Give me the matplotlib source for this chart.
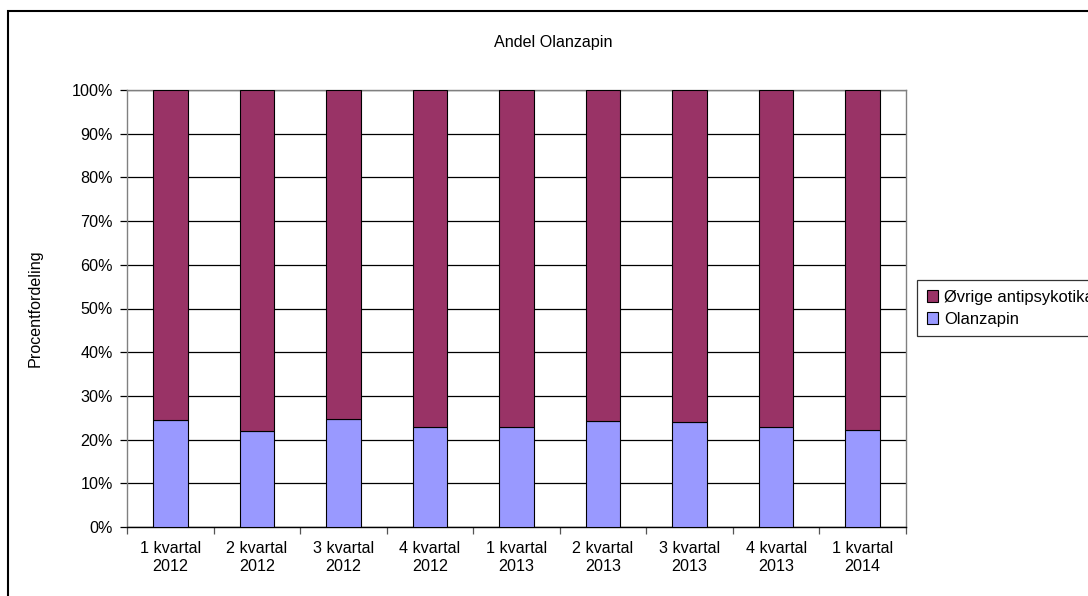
import matplotlib
matplotlib.use("Agg")
import matplotlib.pyplot as plt
import numpy as np
from matplotlib.patches import Rectangle

plt.rcParams['font.family'] = ['Liberation Sans', 'DejaVu Sans']

categories = ["1 kvartal\n2012", "2 kvartal\n2012", "3 kvartal\n2012", "4 kvartal\n2012",
              "1 kvartal\n2013", "2 kvartal\n2013", "3 kvartal\n2013", "4 kvartal\n2013",
              "1 kvartal\n2014"]
olanzapin = [24.4, 21.9, 24.6, 22.9, 22.9, 24.3, 24.1, 22.9, 22.1]
ovrige = [100 - v for v in olanzapin]

W, H = 1088, 596
fig = plt.figure(figsize=(W / 100, H / 100), dpi=100)

# outer chart border
fig.patches.append(Rectangle((8 / W, -0.05), 1.2, (596 - 10.5) / H + 0.05,
                             transform=fig.transFigure, fill=False,
                             edgecolor='black', linewidth=1.5))

left, right, top, bottom = 127, 906, 90, 527
ax = fig.add_axes([left / W, (H - bottom) / H, (right - left) / W, (bottom - top) / H])

x = np.arange(len(categories))
fs = 11.6
b1 = ax.bar(x, olanzapin, width=0.4, color='#9999FF', edgecolor='black', linewidth=0.8,
            label='Olanzapin', zorder=3)
b2 = ax.bar(x, ovrige, bottom=olanzapin, width=0.4, color='#993366', edgecolor='black',
            linewidth=0.8, label='Øvrige antipsykotika', zorder=3)

ax.set_xlim(-0.5, len(categories) - 0.5)
ax.set_ylim(0, 100)
ax.set_yticks(np.arange(0, 101, 10))
ax.set_yticklabels([f"{v}%" for v in range(0, 101, 10)], fontsize=fs)
ax.yaxis.grid(True, color='black', linewidth=0.9, zorder=1)
ax.set_axisbelow(True)

ax.set_xticks(x)
ax.set_xticklabels(categories, fontsize=fs, linespacing=1.25)
ax.tick_params(axis='x', length=0, pad=10)
ax.set_xticks(np.arange(-0.5, len(categories), 1), minor=True)
ax.tick_params(axis='x', which='minor', length=5, color='#555555', width=0.9)
ax.tick_params(axis='y', length=5, color='black', width=0.9, pad=5)

for side in ['left', 'right', 'top']:
    ax.spines[side].set_color('#808080')
    ax.spines[side].set_linewidth(1.0)
ax.spines['bottom'].set_color('black')
ax.spines['bottom'].set_linewidth(1.0)

ax.set_ylabel("Procentfordeling", fontsize=fs, labelpad=21)
fig.text(553 / W, 1 - 42 / H, "Andel Olanzapin", ha='center', va='center',
         fontsize=fs)

leg = fig.legend(handles=[b2, b1], labels=['Øvrige antipsykotika', 'Olanzapin'],
                 loc='upper left', bbox_to_anchor=(917 / W, 1 - 280 / H),
                 fontsize=11.9, frameon=True, fancybox=False, borderpad=0.6,
                 handlelength=0.7, handleheight=0.7, handletextpad=0.35,
                 labelspacing=0.4, borderaxespad=0)
leg.get_frame().set_edgecolor('black')
leg.get_frame().set_linewidth(0.9)

fig.savefig("out.png", dpi=100)
